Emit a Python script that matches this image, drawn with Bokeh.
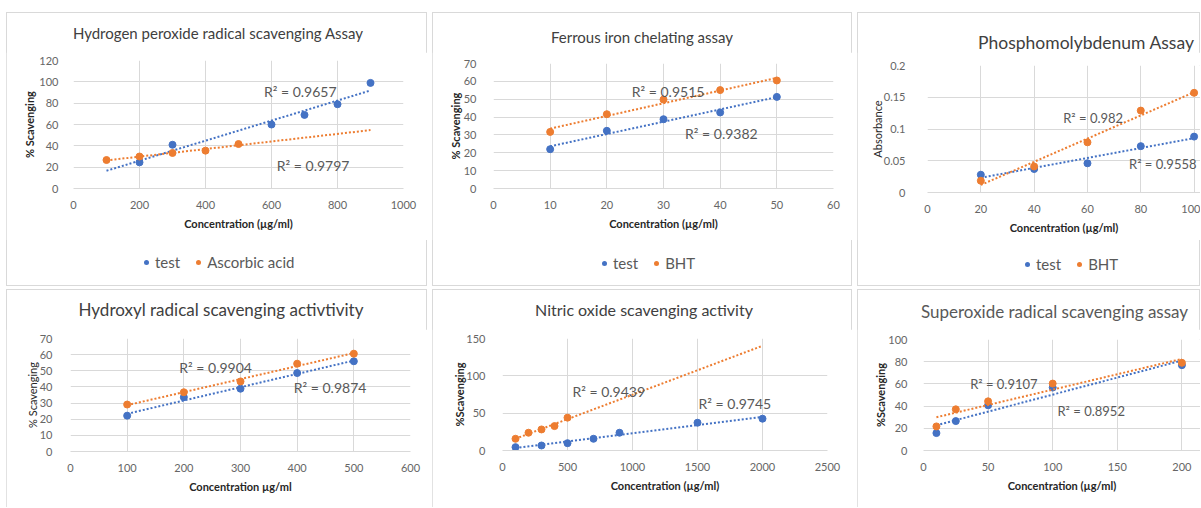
import numpy as np
from bokeh.plotting import figure
from bokeh.models import Label, Range1d, Div
from bokeh.layouts import row, column
from bokeh.embed import file_html
from bokeh.resources import INLINE

# ---------------- data ----------------
# 1. Hydrogen peroxide radical scavenging
h2o2_test_x = [200, 300, 600, 700, 800, 900]
h2o2_test_y = [24.5, 41, 60, 69, 79, 99]
h2o2_ref_x = [100, 200, 300, 400, 500]
h2o2_ref_y = [26.7, 30, 33.3, 35.5, 41.7]
h2o2_trend_span = [100, 900]
h2o2_r2 = ["R² = 0.9657", "R² = 0.9797"]
h2o2_names = ["test", "Ascorbic acid"]
h2o2_xticks = [0, 200, 400, 600, 800, 1000]
h2o2_yticks = [0, 20, 40, 60, 80, 100, 120]

# 2. Ferrous iron chelating
fe_x = [10, 20, 30, 40, 50]
fe_test_y = [22, 32.3, 38.8, 42.6, 51.3]
fe_bht_y = [31.7, 41.6, 49.8, 55.1, 60.5]
fe_trend_span = [10, 50]
fe_r2 = ["R² = 0.9382", "R² = 0.9515"]
fe_names = ["test", "BHT"]
fe_xticks = [0, 10, 20, 30, 40, 50, 60]
fe_yticks = [0, 10, 20, 30, 40, 50, 60, 70]

# 3. Phosphomolybdenum
pm_x = [20, 40, 60, 80, 100]
pm_test_y = [0.028, 0.037, 0.046, 0.073, 0.088]
pm_bht_y = [0.0185, 0.041, 0.079, 0.129, 0.157]
pm_trend_span = [20, 100]
pm_r2 = ["R² = 0.9558", "R² = 0.982"]
pm_names = ["test", "BHT"]
pm_xticks = [0, 20, 40, 60, 80, 100]
pm_yticks = [0, 0.05, 0.1, 0.15, 0.2]
pm_ytick_labels = ["0", "0.05", "0.1", "0.15", "0.2"]

# 4. Hydroxyl radical
oh_x = [100, 200, 300, 400, 500]
oh_test_y = [22.2, 33.6, 38.9, 48.6, 55.9]
oh_ref_y = [29.1, 36.7, 43.4, 54.4, 60.6]
oh_trend_span = [100, 500]
oh_r2 = ["R² = 0.9874", "R² = 0.9904"]
oh_xticks = [0, 100, 200, 300, 400, 500, 600]
oh_yticks = [0, 10, 20, 30, 40, 50, 60, 70]

# 5. Nitric oxide
no_test_x = [100, 300, 500, 700, 900, 1500, 2000]
no_test_y = [4.5, 6.7, 9.8, 15.7, 23.8, 37.2, 42.6]
no_ref_x = [100, 200, 300, 400, 500]
no_ref_y = [15.7, 23.8, 28.2, 32.7, 44]
no_trend_span = [100, 2000]
no_r2 = ["R² = 0.9745", "R² = 0.9439"]
no_xticks = [0, 500, 1000, 1500, 2000, 2500]
no_yticks = [0, 50, 100, 150]

# 6. Superoxide
so_x = [10, 25, 50, 100, 200]
so_test_y = [15.7, 26.5, 40.7, 56.7, 76.9]
so_ref_y = [21.7, 37.1, 44.3, 60.3, 79]
so_trend_span = [10, 200]
so_r2 = ["R² = 0.8952", "R² = 0.9107"]
so_xticks = [0, 50, 100, 150, 200]
so_yticks = [0, 20, 40, 60, 80, 100]

# ---------------- style ----------------
BLUE = "#4472C4"
ORANGE = "#ED7D31"
FONT = "Lato"
GRID = "#d9d9d9"
TICK = "#666666"
TITLE_H = 40
LEGEND_H = 46


def title_div(w, text, size, color, cx, cy, left=None):
    if left is None:
        inner = f'width:{2 * cx}px;text-align:center;'
    else:
        inner = f'padding-left:{left}px;text-align:left;'
    html = (f'<div style="width:{w}px;height:{TITLE_H}px;overflow:hidden;">'
            f'<div style="{inner}white-space:nowrap;'
            f'line-height:{2 * cy}px;font-family:Lato;font-size:{size};'
            f'color:{color};">{text}</div></div>')
    return Div(text=html, width=w, height=TITLE_H, margin=0)


def legend_div(w, names, colors, left, cy):
    parts = []
    for i, (n, c) in enumerate(zip(names, colors)):
        ml = 0 if i == 0 else 16
        parts.append(
            f'<span style="display:inline-block;width:5px;height:5px;border-radius:50%;'
            f'background:{c};vertical-align:middle;margin-left:{ml}px;margin-right:6px;"></span>'
            f'<span style="vertical-align:middle;">{n}</span>')
    html = (f'<div style="width:{w}px;height:{LEGEND_H}px;overflow:hidden;">'
            f'<div style="padding-left:{left}px;line-height:{2 * cy}px;font-family:Lato;'
            f'font-size:15px;color:#595959;white-space:nowrap;">' + "".join(parts) +
            '</div></div>')
    return Div(text=html, width=w, height=LEGEND_H, margin=0)


def make_panel(cfg):
    w = cfg["w"]
    cx, cy = cfg["title_pos"]
    children = [title_div(w, cfg["title"], cfg["title_size"],
                          cfg.get("title_color", "#404040"), cx, cy,
                          cfg.get("title_left"))]
    fig_h = cfg["h"] - TITLE_H - (LEGEND_H if "legend" in cfg else 0)

    p = figure(width=w, height=fig_h,
               x_range=Range1d(*cfg["xr"]), y_range=Range1d(*cfg["yr"]),
               output_backend="svg", toolbar_location=None,
               min_border_left=cfg["b"][0], min_border_right=cfg["b"][1],
               min_border_top=cfg["b"][2], min_border_bottom=cfg["b"][3])
    p.outline_line_color = None
    p.background_fill_color = "white"
    p.border_fill_color = "white"

    p.xaxis.ticker = cfg["xticks"]
    p.yaxis.ticker = cfg["yticks"]
    if "ylabels" in cfg:
        p.yaxis.major_label_overrides = {v: s for v, s in zip(cfg["yticks"], cfg["ylabels"])}
    for ax in (p.xaxis, p.yaxis):
        ax.major_tick_line_color = None
        ax.minor_tick_line_color = None
        ax.major_label_text_font = FONT
        ax.major_label_text_font_size = "11px"
        ax.major_label_text_color = TICK
        ax.axis_label_text_font = FONT
        ax.axis_label_text_font_size = "11px"
        ax.axis_label_text_color = "#262626"
    p.xaxis.axis_line_color = GRID
    p.yaxis.axis_line_color = None
    p.xaxis.axis_label = cfg["xlabel"]
    p.yaxis.axis_label = cfg["ylabel"]
    p.xaxis.axis_label_text_font_style = "bold"
    p.yaxis.axis_label_text_font_style = "bold" if cfg["ybold"] else "normal"
    p.xaxis.major_label_standoff = 6
    p.xaxis.axis_label_standoff = 5
    p.yaxis.major_label_standoff = cfg["ystand"][0]
    p.yaxis.axis_label_standoff = cfg["ystand"][1]

    p.grid.grid_line_color = GRID
    p.grid.grid_line_width = 1

    for s in cfg["series"]:
        p.scatter(s["x"], s["y"], size=7, color=s["color"])
        slope, icpt = np.polyfit(s["x"], s["y"], 1)
        tx = np.array(s["span"], dtype=float)
        p.line(tx, slope * tx + icpt, color=s["color"], line_width=2, line_dash="2 2")
        lx, ly = s["r2_pos"]
        p.add_layout(Label(x=lx, y=ly, text=s["r2"], text_font=FONT,
                           text_font_size=cfg["r2_size"], text_color="#595959",
                           text_baseline="middle", text_align="left"))
    children.append(p)

    if "legend" in cfg:
        left, lcy = cfg["legend"]
        children.append(legend_div(w, cfg["names"], [s["color"] for s in cfg["series"]],
                                   left, lcy))

    return column(*children, spacing=0,
                  styles={"outline": "1px solid #d9d9d9", "outline-offset": "-1px"})


p1 = make_panel(dict(
    w=421, h=274, b=(67, 24, 8, 52), xr=(0, 1000), yr=(0, 120),
    title="Hydrogen peroxide radical scavenging Assay", title_size="15px",
    title_pos=(212, 21),
    xticks=h2o2_xticks, yticks=h2o2_yticks,
    xlabel="Concentration (µg/ml)", ylabel="% Scavenging", ybold=True, ystand=(9, 0),
    r2_size="14px", legend=(138, 20), names=h2o2_names,
    series=[
        dict(x=h2o2_test_x, y=h2o2_test_y, color=BLUE,
             span=h2o2_trend_span, r2=h2o2_r2[0], r2_pos=(577, 91)),
        dict(x=h2o2_ref_x, y=h2o2_ref_y, color=ORANGE,
             span=h2o2_trend_span, r2=h2o2_r2[1], r2_pos=(616, 22)),
    ]))

p2 = make_panel(dict(
    w=420, h=274, b=(61, 19, 11, 52), xr=(0, 60), yr=(0, 70),
    title="Ferrous iron chelating assay", title_size="15px",
    title_pos=(210, 25),
    xticks=fe_xticks, yticks=fe_yticks,
    xlabel="Concentration (µg/ml)", ylabel="% Scavenging", ybold=True, ystand=(11, -1),
    r2_size="14px", legend=(170, 21), names=fe_names,
    series=[
        dict(x=fe_x, y=fe_test_y, color=BLUE,
             span=fe_trend_span, r2=fe_r2[0], r2_pos=(33.8, 30.8)),
        dict(x=fe_x, y=fe_bht_y, color=ORANGE,
             span=fe_trend_span, r2=fe_r2[1], r2_pos=(24.4, 54.5)),
    ]))

p3 = make_panel(dict(
    w=343, h=274, b=(70, 0, 13, 48), xr=(0, 102.4), yr=(0, 0.2),
    title="Phosphomolybdenum Assay", title_size="17.5px",
    title_pos=(229, 31),
    xticks=pm_xticks, yticks=pm_yticks, ylabels=pm_ytick_labels,
    xlabel="Concentration (µg/ml)", ylabel="Absorbance", ybold=False, ystand=(16, -3),
    r2_size="13px", legend=(168, 22), names=pm_names,
    series=[
        dict(x=pm_x, y=pm_test_y, color=BLUE,
             span=pm_trend_span, r2=pm_r2[0], r2_pos=(75.6, 0.0448)),
        dict(x=pm_x, y=pm_bht_y, color=ORANGE,
             span=pm_trend_span, r2=pm_r2[1], r2_pos=(50.9, 0.1175)),
    ]))

p4 = make_panel(dict(
    w=421, h=218, b=(64, 17, 9, 56), xr=(0, 600), yr=(0, 70),
    title="Hydroxyl radical scavenging activtivity", title_size="17px",
    title_pos=(215, 21),
    xticks=oh_xticks, yticks=oh_yticks,
    xlabel="Concentration µg/ml", ylabel="% Scavenging", ybold=False, ystand=(12, -2),
    r2_size="14px",
    series=[
        dict(x=oh_x, y=oh_test_y, color=BLUE,
             span=oh_trend_span, r2=oh_r2[0], r2_pos=(394, 39.5)),
        dict(x=oh_x, y=oh_ref_y, color=ORANGE,
             span=oh_trend_span, r2=oh_r2[1], r2_pos=(192, 52.3)),
    ]))

p5 = make_panel(dict(
    w=420, h=218, b=(70, 25, 9, 57), xr=(0, 2500), yr=(0, 150),
    title="Nitric oxide scavenging activity", title_size="16px",
    title_pos=(212, 21),
    xticks=no_xticks, yticks=no_yticks,
    xlabel="Concentration (µg/ml)", ylabel="%Scavenging", ybold=True, ystand=(11, -3),
    r2_size="14px",
    series=[
        dict(x=no_test_x, y=no_test_y, color=BLUE,
             span=no_trend_span, r2=no_r2[0], r2_pos=(1508, 62.8)),
        dict(x=no_ref_x, y=no_ref_y, color=ORANGE,
             span=no_trend_span, r2=no_r2[1], r2_pos=(538, 79.3)),
    ]))

p6 = make_panel(dict(
    w=343, h=218, b=(66, 0, 10, 57), xr=(0, 214.4), yr=(0, 100),
    title="Superoxide radical scavenging assay", title_size="17px",
    title_color="#595959", title_pos=(0, 23), title_left=64,
    xticks=so_xticks, yticks=so_yticks,
    xlabel="Concentration (µg/ml)", ylabel="%Scavenging", ybold=True, ystand=(10, -2),
    r2_size="13px",
    series=[
        dict(x=so_x, y=so_test_y, color=BLUE,
             span=so_trend_span, r2=so_r2[0], r2_pos=(103.7, 35.3)),
        dict(x=so_x, y=so_ref_y, color=ORANGE,
             span=so_trend_span, r2=so_r2[1], r2_pos=(36.1, 59.7)),
    ]))

layout = column(row(p1, p2, p3, spacing=5), row(p4, p5, p6, spacing=5),
                spacing=3, margin=(12, 0, 0, 6))

with open("out.html", "w") as f:
    f.write(file_html(layout, INLINE))
